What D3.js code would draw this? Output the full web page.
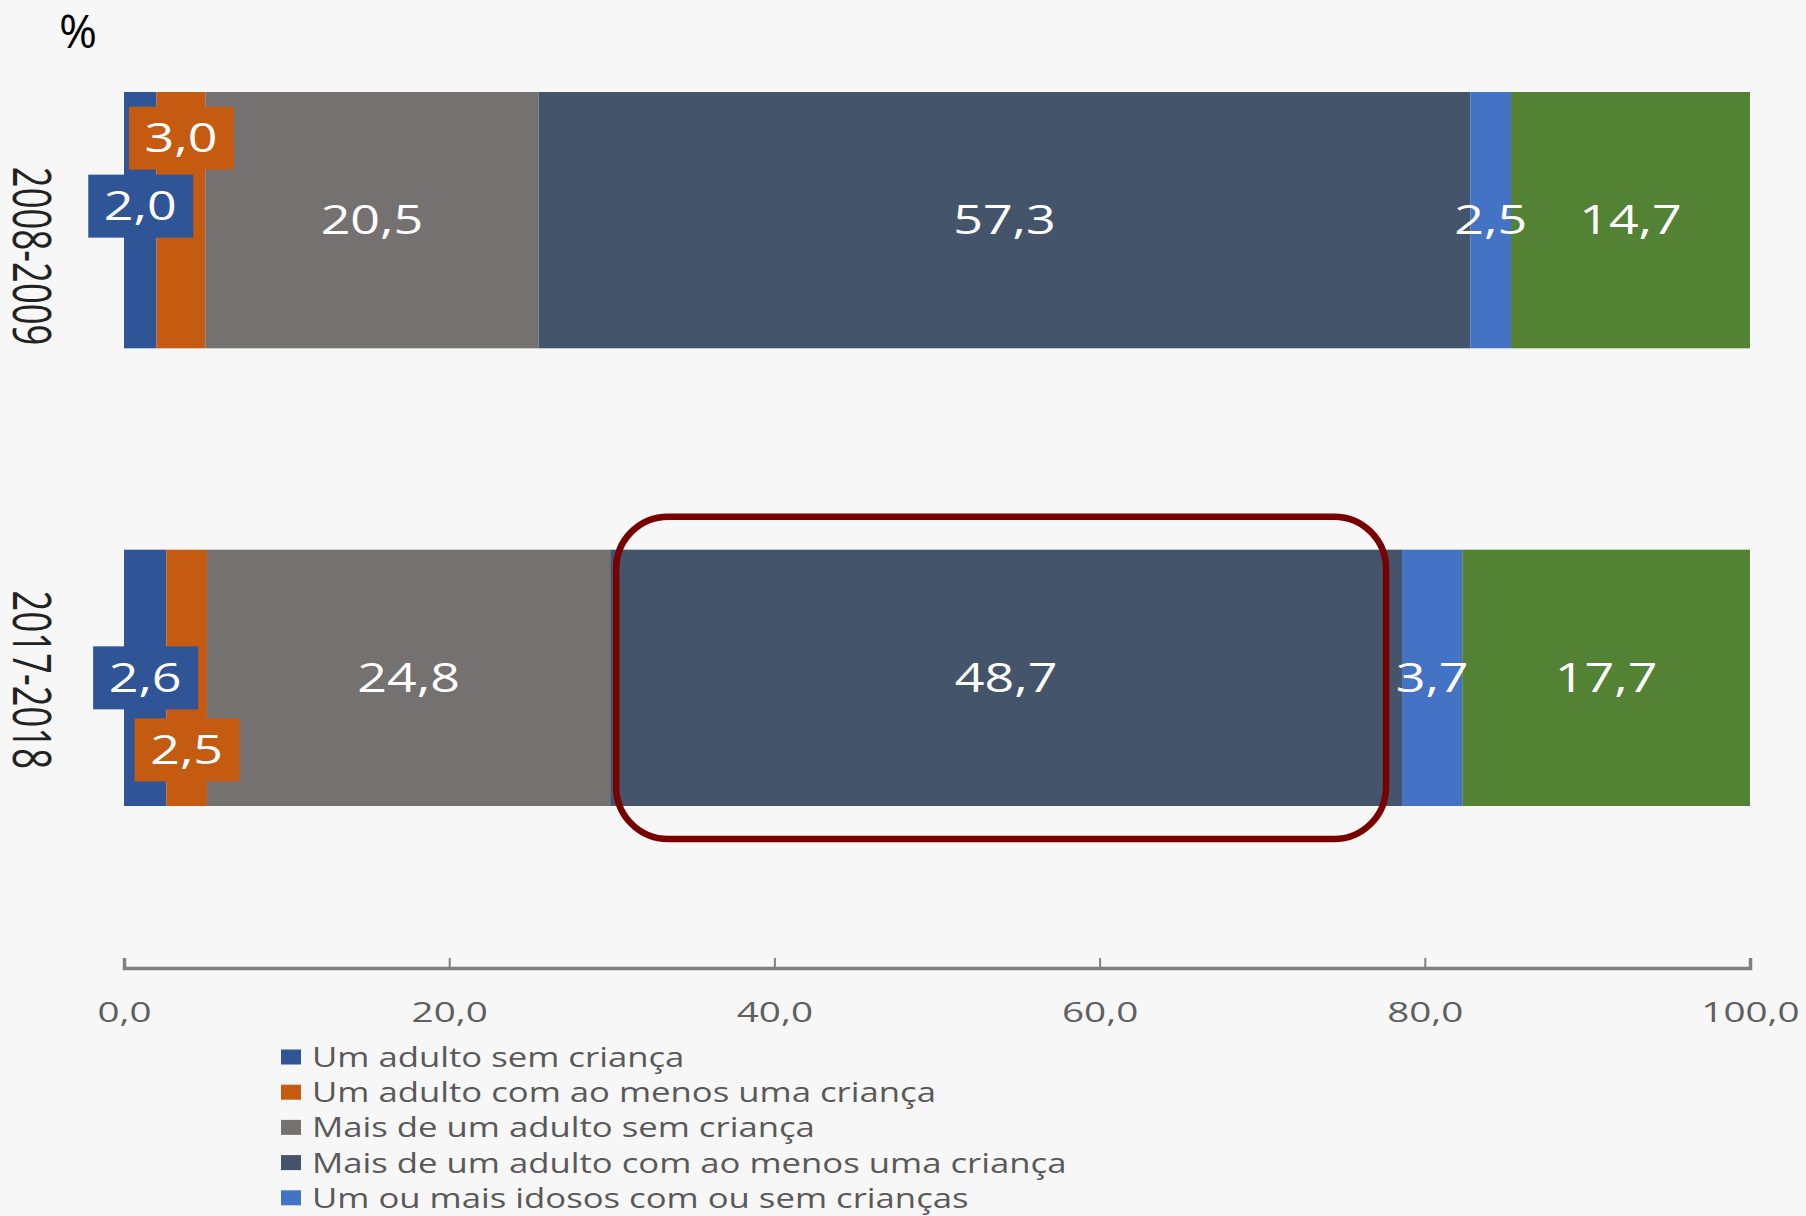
<!DOCTYPE html>
<html><head><meta charset="utf-8">
<script src="https://cdn.jsdelivr.net/npm/d3@7"></script>
<style>html,body{margin:0;padding:0;background:#f7f7f7;} svg{display:block}</style>
</head><body><svg id="chart" width="1806" height="1216"></svg>
<script>
// ---- data ----
const periods = ["2008-2009", "2017-2018"];
const seriesNames = [
  "Um adulto sem criança",
  "Um adulto com ao menos uma criança",
  "Mais de um adulto sem criança",
  "Mais de um adulto com ao menos uma criança",
  "Um ou mais idosos com ou sem crianças",
  "Outros arranjos"
];
const values2008 = [2.0, 3.0, 20.5, 57.3, 2.5, 14.7];
const values2017 = [2.6, 2.5, 24.8, 48.7, 3.7, 17.7];
const seriesColors = ["#2F5597", "#C55A11", "#767171", "#44546A", "#4472C4", "#548235"];
const xTicks = [0, 20, 40, 60, 80, 100];
const unitLabel = "%";
const highlight = {period: "2017-2018", series: 3};

// ---- layout ----
const W = 1806, H = 1216;
const svg = d3.select("#chart");
svg.append("rect").attr("width", W).attr("height", H).attr("fill", "#f7f7f7");

const x = d3.scaleLinear().domain([0, 100]).range([124, 1750]);
const y = d3.scaleBand().domain(periods).range([92, 806]).paddingInner(0.44).paddingOuter(0);

const fmt = v => d3.format(".1f")(v).replace(".", ",");
const table = periods.map((p, i) => {
  const vals = i === 0 ? values2008 : values2017;
  const row = {period: p};
  seriesNames.forEach((s, j) => row[s] = vals[j]);
  return row;
});
const stacked = d3.stack().keys(seriesNames)(table);

// callouts for narrow segments (vertical offset from bar centre)
const callouts = {"2008-2009|0": -14, "2008-2009|1": -82, "2017-2018|0": 0, "2017-2018|1": 72};
const labelFont = "'Open Sans', sans-serif";

// bars
const gBars = svg.append("g");
stacked.forEach((layer, j) => {
  gBars.selectAll(null).data(layer).enter().append("rect")
    .attr("x", d => x(d[0]))
    .attr("y", d => y(d.data.period))
    .attr("width", d => x(d[1]) - x(d[0]))
    .attr("height", y.bandwidth())
    .attr("fill", seriesColors[j]);
});

// labels
const gLab = svg.append("g");
stacked.forEach((layer, j) => {
  layer.forEach(d => {
    const p = d.data.period;
    const cx = (x(d[0]) + x(d[1])) / 2;
    let cy = y(p) + y.bandwidth() / 2;
    const key = p + "|" + j;
    const g = gLab.append("g");
    if (key in callouts) {
      cy += callouts[key];
      g.append("rect").attr("x", cx - 52).attr("y", cy - 31.5)
        .attr("width", 105).attr("height", 63).attr("fill", seriesColors[j]);
    }
    g.append("text")
      .attr("transform", `translate(${cx},${cy}) scale(1.3,1)`)
      .attr("text-anchor", "middle").attr("dy", "0.357em")
      .attr("font-family", labelFont).attr("font-size", 40)
      .attr("fill", "#ffffff")
      .text(fmt(d[1] - d[0]));
  });
});

// highlight frame around the key segment
const hl = stacked[highlight.series].find(d => d.data.period === highlight.period);
svg.append("rect")
  .attr("x", x(hl[0]) + 6).attr("y", y(highlight.period) - 33)
  .attr("width", x(hl[1]) - x(hl[0]) - 22).attr("height", y.bandwidth() + 66)
  .attr("rx", 52).attr("ry", 52)
  .attr("fill", "none").attr("stroke", "#780000").attr("stroke-width", 6.5);

// category labels (rotated)
const catShift = [36, 2];
periods.forEach((p, i) => {
  svg.append("text")
    .attr("transform", `translate(32,${y(p) + y.bandwidth() / 2 + catShift[i]}) rotate(90) scale(1,1.44)`)
    .attr("text-anchor", "middle").attr("dy", "0.357em")
    .attr("font-family", labelFont).attr("font-size", 36.5)
    .attr("fill", "#222222")
    .text(p);
});

// x axis
const axis = d3.axisBottom(x).tickValues(xTicks).tickFormat(fmt).tickSizeInner(-10).tickSizeOuter(-10);
const gAx = svg.append("g").attr("transform", "translate(0,968)").call(axis);
gAx.select(".domain").attr("stroke", "#808080").attr("stroke-width", 3.5);
gAx.selectAll(".tick line").attr("stroke", "#808080").attr("stroke-width", 2);
gAx.selectAll(".tick text")
  .attr("y", 0).attr("dy", 0)
  .attr("transform", "translate(0,54) scale(1.38,1)")
  .attr("font-family", labelFont).attr("font-size", 28)
  .attr("fill", "#606060");

// unit label
svg.append("text").attr("x", 59).attr("y", 48)
  .attr("font-family", labelFont).attr("font-size", 46).attr("fill", "#000")
  .text(unitLabel);

// legend
const legY0 = 1057, legStep = 35.2;
seriesNames.forEach((s, i) => {
  const cy = legY0 + i * legStep;
  if (cy > H) return;
  svg.append("rect").attr("x", 281).attr("y", cy - 7.5).attr("width", 20).attr("height", 15)
    .attr("fill", seriesColors[i]);
  svg.append("text")
    .attr("transform", `translate(312,${cy}) scale(1.24,1)`)
    .attr("dy", "0.357em")
    .attr("font-family", labelFont).attr("font-size", 28)
    .attr("fill", "#595959")
    .text(s);
});
</script></body></html>
